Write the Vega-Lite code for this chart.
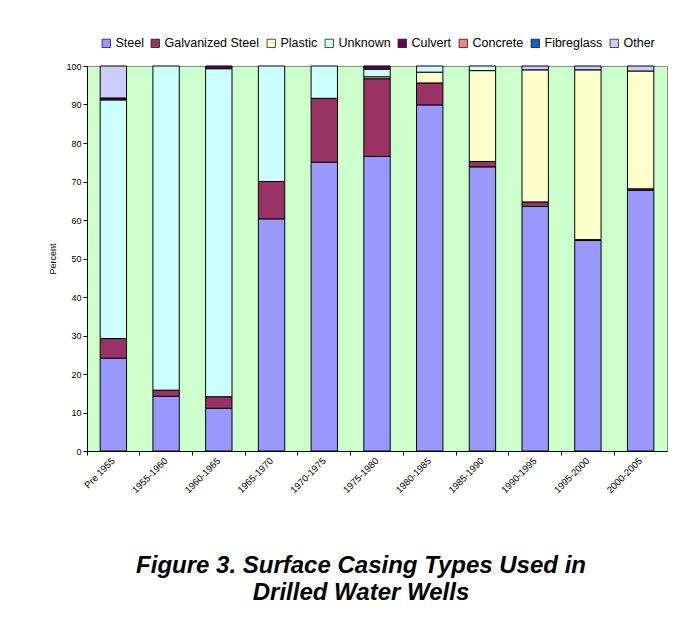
{
  "$schema": "https://vega.github.io/schema/vega-lite/v6.json",
  "width": 580,
  "height": 385,
  "padding": {"left": 48, "top": 37, "right": 30, "bottom": 10},
  "background": "white",
  "config": {
    "font": "Liberation Sans",
    "view": {"fill": "#CCFFCC", "stroke": "#8c8c8c", "strokeWidth": 1}
  },
  "title": {
    "text": ["Figure 3. Surface Casing Types Used in", "Drilled Water Wells"],
    "orient": "bottom",
    "anchor": "middle",
    "dx": -16,
    "font": "Liberation Sans",
    "fontSize": 24,
    "fontWeight": "bold",
    "fontStyle": "italic",
    "color": "black",
    "lineHeight": 27,
    "offset": 60
  },
  "data": {
    "values": [
      {"period": "Pre 1955", "type": "Steel", "pct": 24.1},
      {"period": "Pre 1955", "type": "Galvanized Steel", "pct": 5.1},
      {"period": "Pre 1955", "type": "Unknown", "pct": 62.0},
      {"period": "Pre 1955", "type": "Culvert", "pct": 0.5},
      {"period": "Pre 1955", "type": "Other", "pct": 8.3},
      {"period": "1955-1960", "type": "Steel", "pct": 14.2},
      {"period": "1955-1960", "type": "Galvanized Steel", "pct": 1.6},
      {"period": "1955-1960", "type": "Unknown", "pct": 84.2},
      {"period": "1960-1965", "type": "Steel", "pct": 11.1},
      {"period": "1960-1965", "type": "Galvanized Steel", "pct": 3.0},
      {"period": "1960-1965", "type": "Unknown", "pct": 85.2},
      {"period": "1960-1965", "type": "Culvert", "pct": 0.7},
      {"period": "1965-1970", "type": "Steel", "pct": 60.3},
      {"period": "1965-1970", "type": "Galvanized Steel", "pct": 9.7},
      {"period": "1965-1970", "type": "Unknown", "pct": 30.0},
      {"period": "1970-1975", "type": "Steel", "pct": 75.0},
      {"period": "1970-1975", "type": "Galvanized Steel", "pct": 16.6},
      {"period": "1970-1975", "type": "Unknown", "pct": 8.4},
      {"period": "1975-1980", "type": "Steel", "pct": 76.5},
      {"period": "1975-1980", "type": "Galvanized Steel", "pct": 20.2},
      {"period": "1975-1980", "type": "Plastic", "pct": 0.5},
      {"period": "1975-1980", "type": "Unknown", "pct": 2.0},
      {"period": "1975-1980", "type": "Culvert", "pct": 0.8},
      {"period": "1980-1985", "type": "Steel", "pct": 89.9},
      {"period": "1980-1985", "type": "Galvanized Steel", "pct": 5.7},
      {"period": "1980-1985", "type": "Plastic", "pct": 2.8},
      {"period": "1980-1985", "type": "Unknown", "pct": 1.6},
      {"period": "1985-1990", "type": "Steel", "pct": 73.8},
      {"period": "1985-1990", "type": "Galvanized Steel", "pct": 1.4},
      {"period": "1985-1990", "type": "Plastic", "pct": 23.6},
      {"period": "1985-1990", "type": "Unknown", "pct": 1.2},
      {"period": "1990-1995", "type": "Steel", "pct": 63.5},
      {"period": "1990-1995", "type": "Galvanized Steel", "pct": 1.2},
      {"period": "1990-1995", "type": "Plastic", "pct": 34.3},
      {"period": "1990-1995", "type": "Other", "pct": 1.0},
      {"period": "1995-2000", "type": "Steel", "pct": 54.7},
      {"period": "1995-2000", "type": "Galvanized Steel", "pct": 0.2},
      {"period": "1995-2000", "type": "Plastic", "pct": 44.1},
      {"period": "1995-2000", "type": "Other", "pct": 1.0},
      {"period": "2000-2005", "type": "Steel", "pct": 67.7},
      {"period": "2000-2005", "type": "Galvanized Steel", "pct": 0.4},
      {"period": "2000-2005", "type": "Plastic", "pct": 30.6},
      {"period": "2000-2005", "type": "Other", "pct": 1.3}
    ]
  },
  "transform": [
    {"calculate": "indexof(['Steel','Galvanized Steel','Plastic','Unknown','Culvert','Concrete','Fibreglass','Other'], datum.type)", "as": "stackOrder"}
  ],
  "mark": {"type": "bar", "stroke": "black", "strokeWidth": 1},
  "encoding": {
    "x": {
      "field": "period",
      "type": "nominal",
      "sort": null,
      "scale": {"paddingInner": 0.5, "paddingOuter": 0.25},
      "axis": {
        "title": null,
        "labelAngle": -45,
        "labelAlign": "right",
        "labelBaseline": "middle",
        "labelFontSize": 9.5,
        "labelColor": "black",
        "labelPadding": 4,
        "domainColor": "black",
        "tickColor": "black",
        "tickSize": 4,
        "bandPosition": -0.5
      }
    },
    "y": {
      "field": "pct",
      "type": "quantitative",
      "stack": "zero",
      "scale": {"domain": [0, 100], "nice": false},
      "axis": {
        "title": "Percent",
        "titleFontSize": 9,
        "titleFontWeight": "normal",
        "titleColor": "black",
        "titlePadding": 8,
        "values": [0, 10, 20, 30, 40, 50, 60, 70, 80, 90, 100],
        "labelFontSize": 9,
        "labelColor": "black",
        "grid": false,
        "domainColor": "black",
        "tickColor": "black",
        "tickSize": 4
      }
    },
    "color": {
      "field": "type",
      "type": "nominal",
      "scale": {
        "domain": ["Steel", "Galvanized Steel", "Plastic", "Unknown", "Culvert", "Concrete", "Fibreglass", "Other"],
        "range": ["#9999FF", "#993366", "#FFFFCC", "#CCFFFF", "#660066", "#FF8080", "#0066CC", "#CCCCFF"]
      },
      "legend": {
        "title": null,
        "orient": "none",
        "legendX": 13,
        "legendY": -29,
        "direction": "horizontal",
        "symbolType": "square",
        "symbolSize": 70,
        "symbolStrokeColor": "black",
        "symbolStrokeWidth": 0.7,
        "symbolOpacity": 1,
        "labelFontSize": 12.5,
        "labelColor": "black",
        "labelOffset": 3,
        "columnPadding": 5
      }
    },
    "order": {"field": "stackOrder", "type": "quantitative", "sort": "ascending"}
  }
}
